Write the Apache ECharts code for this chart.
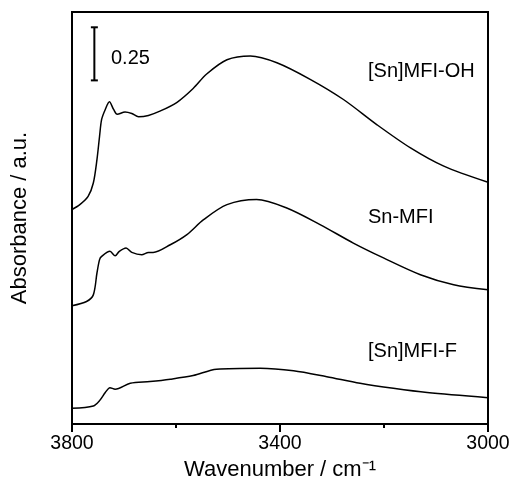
<!DOCTYPE html>
<html>
<head>
<meta charset="utf-8">
<script src="https://cdn.jsdelivr.net/npm/echarts@6/dist/echarts.min.js"></script>
<style>
  html, body { margin: 0; padding: 0; background: #fff; }
  #chart { width: 513px; height: 485px; }
</style>
</head>
<body>
<div id="chart"></div>
<script>
// wavenumber (cm-1) / absorbance (offset stacked)
const ohWn = [3800, 3785, 3769, 3759, 3752, 3747, 3743, 3736, 3728, 3720, 3713, 3698, 3685, 3672, 3653, 3631, 3598, 3567, 3541, 3502, 3457, 3406, 3342, 3278, 3214, 3149, 3085, 3000];
const ohAbs = [1.010, 1.033, 1.072, 1.135, 1.245, 1.355, 1.434, 1.481, 1.517, 1.481, 1.458, 1.469, 1.462, 1.447, 1.453, 1.473, 1.515, 1.580, 1.648, 1.715, 1.733, 1.701, 1.623, 1.528, 1.410, 1.300, 1.214, 1.138];

const snWn = [3800, 3772, 3759, 3752, 3747, 3743, 3727, 3717, 3709, 3696, 3685, 3666, 3653, 3644, 3611, 3579, 3547, 3502, 3445, 3387, 3323, 3259, 3201, 3130, 3066, 3000];
const snAbs = [0.557, 0.577, 0.608, 0.711, 0.774, 0.789, 0.813, 0.792, 0.813, 0.829, 0.808, 0.797, 0.808, 0.808, 0.844, 0.892, 0.962, 1.033, 1.057, 1.017, 0.939, 0.852, 0.782, 0.703, 0.656, 0.632];

const fWn = [3800, 3759, 3746, 3736, 3727, 3717, 3688, 3650, 3611, 3567, 3522, 3438, 3374, 3310, 3246, 3182, 3117, 3000];
const fAbs = [0.074, 0.085, 0.113, 0.148, 0.171, 0.164, 0.192, 0.200, 0.211, 0.228, 0.258, 0.263, 0.251, 0.223, 0.192, 0.168, 0.148, 0.124];

// 0.25 absorbance scale bar
const scaleWn = 3757;
const scaleBase = 1.618;
const scaleSize = 0.25;

const xTicksMajor = [3800, 3400, 3000];

const zip = (xs, ys) => xs.map((x, i) => [x, ys[i]]);

const chart = echarts.init(document.getElementById("chart"));
const font = "'Liberation Sans', Arial, sans-serif";

const lineSeries = (data) => ({
    type: "line",
    data,
    smooth: 0.3,
    symbol: "none",
    lineStyle: { color: "#000", width: 1.5 },
    silent: true,
});

chart.setOption({
    animation: false,
    backgroundColor: "#fff",
    grid: {
        left: 72, right: 25, top: 12, bottom: 61,
        outerBoundsMode: "none",
        show: true, borderColor: "#000", borderWidth: 2, backgroundColor: "transparent",
    },
    xAxis: [
        {
            type: "value",
            min: 3000,
            max: 3800,
            interval: 400,
            inverse: true,
            position: "bottom",
            axisLine: { show: true, lineStyle: { color: "#000", width: 2 } },
            axisTick: { show: true, length: 8, lineStyle: { color: "#000", width: 2 } },
            axisLabel: {
                color: "#000", fontSize: 19.5, fontFamily: font, margin: 10,
                formatter: (v) => xTicksMajor.includes(v) ? String(v) : "",
            },
            splitLine: { show: false },
            name: "Wavenumber / cm\u207B\u00B9",
            nameLocation: "middle",
            nameGap: 35,
            nameTextStyle: { color: "#000", fontSize: 22, fontFamily: font },
        },
        {
            type: "value",
            min: 3000,
            max: 3800,
            interval: 200,
            inverse: true,
            position: "bottom",
            axisLine: { show: false },
            axisTick: { show: true, length: 4, lineStyle: { color: "#000", width: 2 } },
            axisLabel: { show: false },
            splitLine: { show: false },
        },
    ],
    yAxis: {
        type: "value",
        min: 0,
        max: 1.94,
        axisLine: { show: true, lineStyle: { color: "#000", width: 2 } },
        axisTick: { show: false },
        axisLabel: { show: false },
        splitLine: { show: false },
        name: "Absorbance / a.u.",
        nameLocation: "middle",
        nameGap: 41,
        nameTextStyle: { color: "#000", fontSize: 22, fontFamily: font },
    },
    series: [
        lineSeries(zip(ohWn, ohAbs)),
        lineSeries(zip(snWn, snAbs)),
        lineSeries(zip(fWn, fAbs)),
        {
            type: "line",
            data: [[scaleWn, scaleBase], [scaleWn, scaleBase + scaleSize]],
            symbol: "rect",
            symbolSize: [7, 2],
            showAllSymbol: true,
            itemStyle: { color: "#000" },
            lineStyle: { color: "#000", width: 2 },
            silent: true,
        },
    ],
    graphic: [
        { type: "text", left: 111, top: 48, style: { text: "0.25", font: "20px " + font, fill: "#000" } },
        { type: "text", left: 368, top: 61, style: { text: "[Sn]MFI-OH", font: "20px " + font, fill: "#000" } },
        { type: "text", left: 368, top: 207, style: { text: "Sn-MFI", font: "20px " + font, fill: "#000" } },
        { type: "text", left: 368, top: 341, style: { text: "[Sn]MFI-F", font: "20px " + font, fill: "#000" } },
    ],
});
</script>
</body>
</html>
